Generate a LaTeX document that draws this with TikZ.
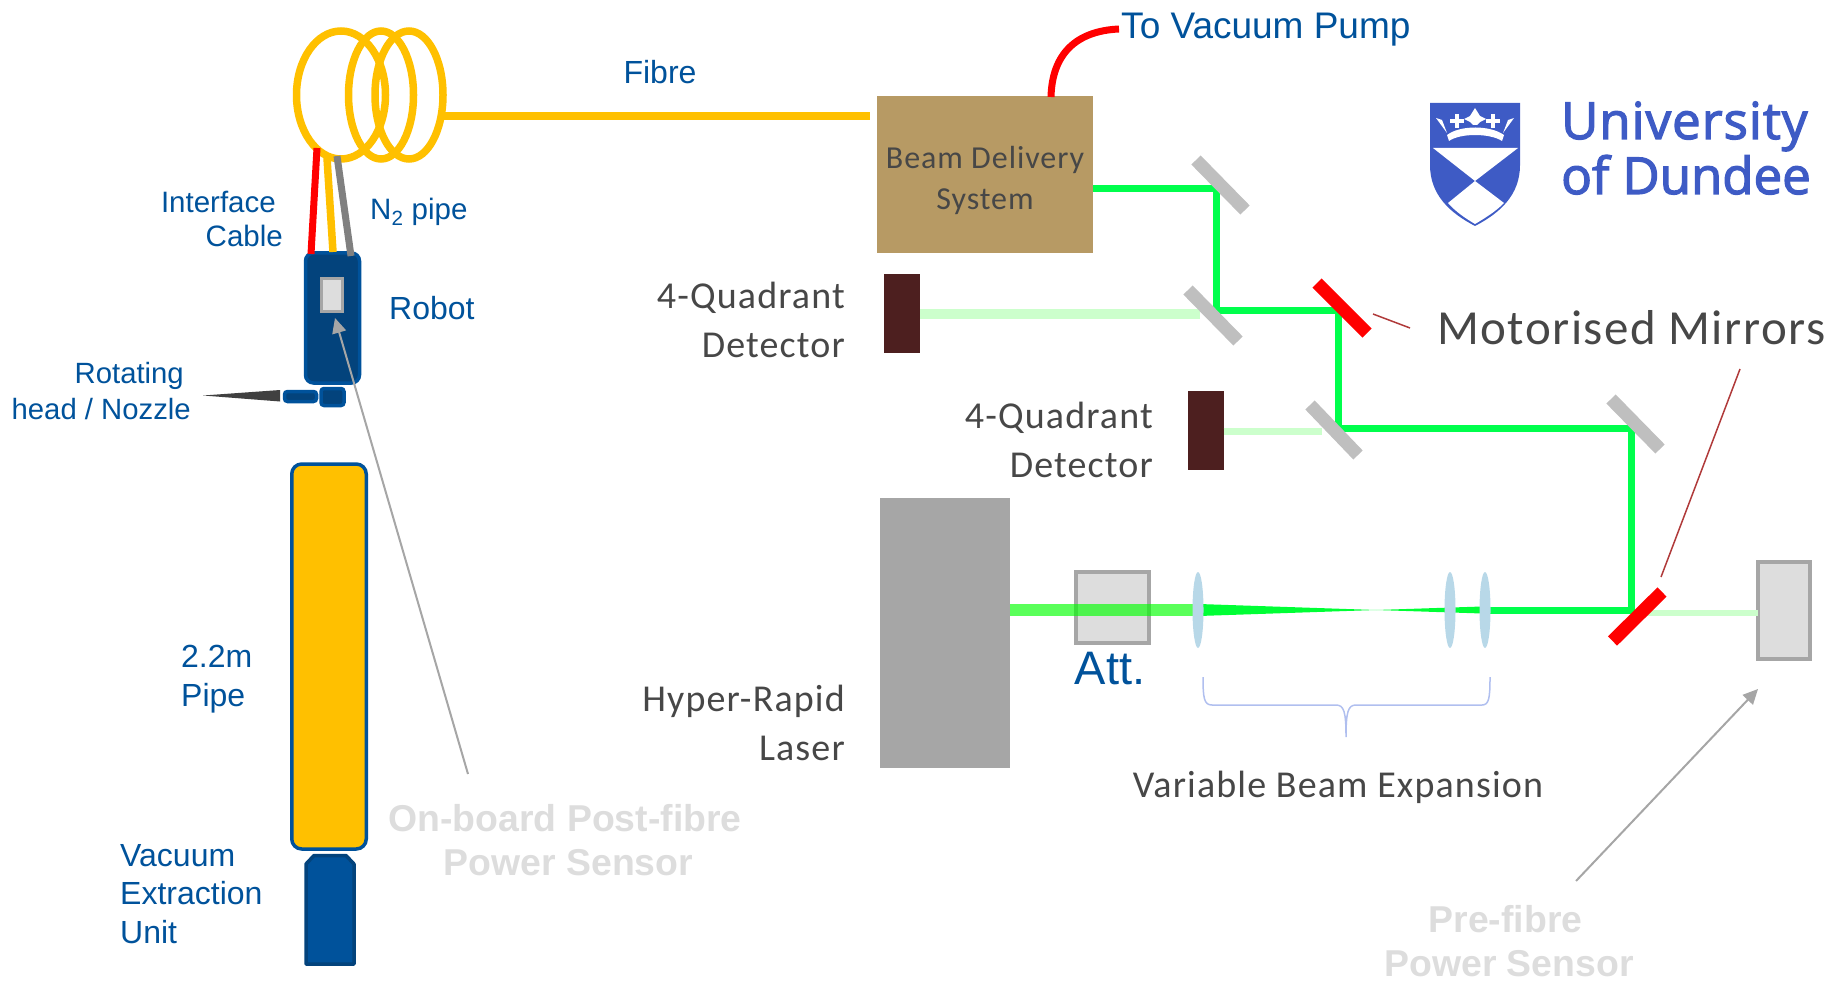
\documentclass[tikz,border=0pt]{standalone}
\usepackage{fontspec}
\setmainfont{Liberation Sans}
\newfontfamily\greyfont[LetterSpace=3]{Carlito}
\newfontfamily\logofont[FakeBold=2.5]{Open Sans}
\usepackage{tikz}
\usetikzlibrary{calc}
\usetikzlibrary{arrows.meta}
\usetikzlibrary{shapes.geometric}
\definecolor{fibreyellow}{HTML}{FFC000}
\definecolor{robotblue}{HTML}{00529B}
\definecolor{robotdark}{HTML}{03437C}
\definecolor{beamgreen}{HTML}{00FF4C}
\definecolor{ghostgreen}{HTML}{CCFFCC}
\definecolor{detbrown}{HTML}{4D1F1F}
\definecolor{sandbox}{HTML}{B79A64}
\definecolor{sensorgrey}{HTML}{DDDDDD}
\definecolor{edgegrey}{HTML}{A6A6A6}
\definecolor{mirrorgrey}{HTML}{BFBFBF}
\definecolor{lensblue}{HTML}{B8D8E8}
\definecolor{bracecol}{HTML}{B0BFEF}
\definecolor{leadred}{HTML}{B03A3A}
\definecolor{logoblue}{HTML}{3E5BC5}
\definecolor{greytext}{HTML}{474747}
\tikzset{
	% boxes are given their size in pixels of the reference
	plain box/.style={rectangle,inner sep=0,outer sep=0},
	sensor box/.style={plain box,draw=edgegrey,fill=sensorgrey,line width=3.5pt},
	detector box/.style={plain box,fill=detbrown,minimum width=36pt,minimum height=79pt},
	% text styles: blue labels, grey labels, pale sensor labels
	blue label/.style={inner sep=0,text=robotblue,font=\fontsize{32}{38.5}\selectfont},
	grey label/.style={inner sep=0,text=greytext,align=right,font=\greyfont\fontsize{38}{49}\selectfont},
	pale label/.style={inner sep=0,text=sensorgrey,align=center,font=\bfseries\fontsize{37.4}{44.5}\selectfont},
	logo label/.style={inner sep=0,anchor=base west,text=logoblue,font=\logofont\fontsize{51}{55}\selectfont},
	% beams
	fibre line/.style={draw=fibreyellow,line width=7.5pt},
	beam line/.style={draw=beamgreen,line width=7pt,line join=miter},
	mirror line/.style={draw=#1,line width=13pt},
	pointer/.style={draw=edgegrey,line width=2pt,-{Triangle[length=15pt,width=14pt]}},
	lens/.style={ellipse,fill=lensblue,inner sep=0,minimum width=11pt,minimum height=76pt}
}
\begin{document}
\begin{tikzpicture}[x=1pt,y=-1pt]
	\useasboundingbox (0,0) rectangle (1835,981);
	% macro for mirrors, one end to the other
	\newcommand{\mirror}[3][mirrorgrey]{\draw[mirror line=#1](#2)--(#3);}
	
	% fibre coil and the fibre to the delivery system
	\draw[fibre line](341,95) ellipse (44.5 and 64);
	\draw[fibre line](381,95) ellipse (32.5 and 64);
	\draw[fibre line](409,95) ellipse (34 and 64);
	\coordinate(coil end) at (442,116);
	\node(bds)[plain box,fill=sandbox,minimum width=216pt,minimum height=157pt] at (985,175){};
	\node(bds label)[inner sep=0,text=greytext,align=center,font=\greyfont\fontsize{32}{41}\selectfont] at (985,180){Beam Delivery\\System};
	\coordinate(bds in) at (870,116);
	\draw[fibre line](coil end)--(bds in);
	
	% left column
	\node(robot)[plain box,rounded corners=8pt,draw=robotblue,fill=robotdark,line width=3.5pt,minimum width=54pt,minimum height=130pt] at (332.5,318){};
	\node(onboard)[sensor box,line width=3pt,minimum width=21pt,minimum height=33pt] at (332,295){};
	\coordinate(red top) at (317,148);
	\coordinate(red bot) at (311,254);
	\coordinate(yel top) at (327,158);
	\coordinate(yel bot) at (333,252);
	\coordinate(gry top) at (337,156);
	\coordinate(gry bot) at (351,256);
	\draw[line width=7pt,draw=red](red top)--(red bot);
	\draw[fibre line](yel top)--(yel bot);
	\draw[line width=7pt,draw=gray](gry top)--(gry bot);
	\node(head)[plain box,rounded corners=3pt,draw=robotblue,fill=robotdark,line width=3.5pt,minimum width=32pt,minimum height=10pt] at (300.5,396.5){};
	\node(nozzle)[plain box,rounded corners=3pt,draw=robotblue,fill=robotdark,line width=3.5pt,minimum width=23pt,minimum height=17pt] at (332.5,397){};
	\coordinate(tip) at (203,395.5);
	\fill[black!75](tip)--(280,390)--(280,401.5)--cycle;
	\node(pipe)[plain box,rounded corners=10pt,draw=robotblue,fill=fibreyellow,line width=3.5pt,minimum width=74.5pt,minimum height=385pt] at (329,656.5){};
	% extraction unit, top corners cut
	\draw[draw=robotdark,fill=robotblue,line width=3.5pt,line join=round](306,964)--(306,864)--(314,855.5)--(346,855.5)--(354,864)--(354,964)--cycle;
	\coordinate(onboard foot) at (468,774);
	\coordinate(onboard tip) at (335,318);
	\draw[pointer](onboard foot)--(onboard tip);
	
	% labels of the left column
	\node[blue label](fibre label) at (660,72){Fibre};
	\node[blue label,align=right,anchor=east,font=\fontsize{29.5}{34}\selectfont](cable label) at (283,219){Interface\hspace{7pt}\mbox{}\\Cable};
	\node[blue label,anchor=west,font=\fontsize{29.5}{34}\selectfont](n2 label) at (370,212){N\textsubscript{2} pipe};
	\node[blue label,anchor=west](robot label) at (389,308){Robot};
	\node[blue label,align=right,anchor=east,font=\fontsize{29.3}{36}\selectfont](head label) at (191,391){Rotating\hspace{7pt}\mbox{}\\head / Nozzle};
	\node[blue label,align=left,anchor=west](pipe label) at (181,679){2.2m\\Pipe};
	\node[blue label,align=left,anchor=west](vacuum label) at (120,894){Vacuum\\Extraction\\Unit};
	\node[pale label](onboard label) at (565,840){On-board Post-fibre\\\hspace{7pt}Power Sensor};
	
	% to the vacuum pump
	\node[blue label,anchor=west,font=\fontsize{37}{40}\selectfont](pump label) at (1121,30){To Vacuum Pump};
	\coordinate(pump start) at (1051,97);
	\coordinate(pump end) at (1119,29);
	\draw[line width=7pt,draw=red](pump start)..controls (1052,55) and (1075,31)..(pump end);
	
	% laser and its beam
	\node(laser)[plain box,fill=edgegrey,minimum width=130pt,minimum height=270pt] at (945,633){};
	\node(att)[sensor box,minimum width=73pt,minimum height=71pt] at (1112.5,607.5){};
	\node[blue label,font=\fontsize{47}{50}\selectfont](att label) at (1110,669){Att.};
	\node(power)[sensor box,minimum width=52pt,minimum height=97pt] at (1784,610.5){};
	\coordinate(focus) at (1376,610);
	\coordinate(m5) at (1631,610);
	\coordinate(m4) at (1631,428);
	\coordinate(m3) at (1338,428);
	\coordinate(m2r) at (1338,311);
	\coordinate(m2) at (1216,311);
	\coordinate(m1) at (1216,189);
	\coordinate(bds out) at (1093,189);
	\fill[opacity=.65,fill=green](laser.east |- 0,604)rectangle(1199,616);
	\fill[beamgreen!70!green](1199,604)--(focus)--(1199,616)--cycle;
	\fill[beamgreen!70!green](1482,606.5)--(focus)--(1482,613.5)--cycle;
	\draw[beam line](1482,610)--(m5)--(m4)--(m3)--(m2r)--(m2)--(m1)--(bds out);
	\node(lens a)[lens] at (1198,610){};
	\node(lens b)[lens] at (1450,610){};
	\node(lens c)[lens] at (1485,610){};
	
	% detectors and the leak beams
	\node(det a)[detector box] at (902,313.5){};
	\node(det b)[detector box] at (1205.5,430.5){};
	\draw[draw=ghostgreen,line width=10pt](det a.east |- 0,314)--(1200,314);
	\draw[draw=ghostgreen,line width=7pt](det b.east |- 0,431)--(1322,431);
	\draw[draw=ghostgreen,line width=6pt](1640,613)--(power.west |- 0,613);
	
	% mirrors
	\mirror{1196,160}{1245,210}
	\mirror{1188,290}{1238,341}
	\mirror{1310,405}{1358,455}
	\mirror{1611,399}{1660,449}
	\mirror[red]{1317,283}{1367,333}
	\mirror[red]{1612.5,641}{1662,592}
	
	% leads from the motorised mirrors
	\coordinate(lead a) at (1373,314);
	\coordinate(lead a end) at (1410,328);
	\coordinate(lead b) at (1661,577);
	\coordinate(lead b end) at (1740,369);
	\draw[draw=leadred,line width=1.5pt](lead a)--(lead a end);
	\draw[draw=leadred,line width=1.5pt](lead b)--(lead b end);
	
	% brace under the expansion lenses
	\coordinate(brace l) at (1203,677);
	\coordinate(brace r) at (1490,677);
	\coordinate(brace tip) at (1346,737);
	\draw[draw=bracecol,line width=1.5pt](brace l)..controls (1203,698) and (1204,705)..(1212,705)--(1336,705)..controls (1344,705) and (1346,712)..(brace tip)..controls (1346,712) and (1348,705)..(1356,705)--(1482,705)..controls (1489,705) and (1490,698)..(brace r);
	
	% pre-fibre pointer
	\coordinate(pre foot) at (1576,881);
	\coordinate(pre tip) at (1758,689);
	\draw[pointer](pre foot)--(pre tip);
	
	% grey labels
	\node[grey label,anchor=east](det a label) at (845,319.5){4-Quadrant\\Detector};
	\node[grey label,anchor=east](det b label) at (1153,439.5){4-Quadrant\\Detector};
	\node[grey label,anchor=east](laser label) at (845,722.5){Hyper-Rapid\\Laser};
	\node[grey label](beam label) at (1338,787){Variable Beam Expansion};
	\node[grey label,anchor=west,font=\greyfont\fontsize{49}{52}\selectfont](mirror label) at (1437,328){Motorised Mirrors};
	\node[pale label](pre label) at (1505.5,941){Pre-fibre\\\hspace{7pt}Power Sensor};
	
	% logo
	\fill[logoblue](1430,103)--(1520,103)--(1520,165)..controls (1520,195) and (1500,213)..(1475,226)..controls (1450,213) and (1430,195)..(1430,165)--cycle;
	\fill[white](1433,148)--(1518,148)--(1475,181)--cycle;
	\fill[white](1475,181)--(1504,203)..controls (1495,212) and (1485,218)..(1475,224)..controls (1465,218) and (1456,212)..(1448,203)--cycle;
	% crown
	\fill[white](1447,135)..controls (1460,125) and (1490,125)..(1504,135)--(1502,141)..controls (1490,133) and (1460,133)..(1449,141)--cycle;
	\fill[white](1475,108)--(1480,116)--(1486,119)--(1480,122)--(1477,125)--(1473,125)--(1470,122)--(1464,119)--(1470,116)--cycle;
	\draw[white,line width=3.5pt](1450,121)--(1464,121)(1457,114)--(1457,128);
	\draw[white,line width=3.5pt](1486,121)--(1500,121)(1493,114)--(1493,128);
	\fill[white](1436,118)--(1442,120)--(1447,133)--cycle;
	\fill[white](1514,118)--(1508,120)--(1503,133)--cycle;
	\node[logo label](logo top) at (1561,139){\addfontfeature{LetterSpace=2}University};
	\node[logo label](logo bot) at (1561,194){of Dundee};
\end{tikzpicture}
\end{document}
